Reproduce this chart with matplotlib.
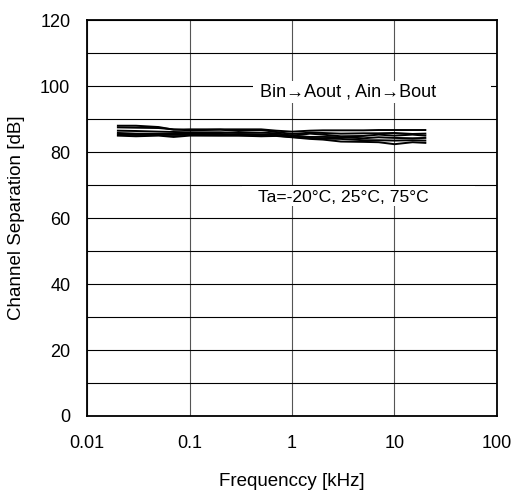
import numpy as np
import matplotlib.pyplot as plt
from matplotlib.patches import Rectangle

# channel separation vs frequency, 2 directions x 3 temperatures
freq = [0.02, 0.03, 0.05, 0.07, 0.1, 0.2, 0.3, 0.5, 0.7, 1, 1.5, 2, 3, 5, 7, 10, 15, 20]

sep1 = [88.0, 88.0, 87.6, 86.8, 86.9, 86.9, 86.9, 86.9, 86.5, 86.2, 86.5, 86.6, 86.6, 86.6, 86.7, 86.7, 86.7, 86.7]
sep2 = [87.5, 87.4, 87.3, 86.9, 86.6, 86.8, 86.4, 86.7, 86.1, 85.5, 85.9, 85.8, 85.6, 85.7, 85.7, 85.8, 85.5, 85.6]
sep3 = [86.5, 86.4, 86.2, 86.1, 86.0, 86.0, 85.8, 85.9, 85.7, 85.0, 85.6, 85.3, 84.8, 84.9, 85.3, 85.0, 85.3, 85.0]
sep4 = [85.8, 85.6, 85.5, 85.5, 85.5, 85.5, 85.4, 85.4, 85.2, 85.0, 84.6, 84.6, 84.5, 84.2, 84.5, 84.3, 84.2, 84.3]
sep5 = [85.3, 85.2, 85.2, 85.2, 85.2, 85.1, 85.1, 85.1, 85.0, 84.6, 84.3, 84.1, 84.0, 83.6, 83.6, 83.5, 83.6, 83.5]
sep6 = [85.0, 84.8, 85.0, 84.6, 85.0, 85.0, 85.0, 84.8, 84.9, 84.5, 84.0, 83.8, 83.2, 83.1, 83.0, 82.4, 83.0, 82.8]

xticks = [0.01, 0.1, 1, 10, 100]
xticklabels = ["0.01", "0.1", "1", "10", "100"]

plt.rcParams['font.family'] = ['Liberation Sans', 'DejaVu Sans']

fig = plt.figure(figsize=(5.15, 4.92), dpi=100)
ax = fig.add_axes([0.169, 0.1545, 0.796, 0.8045])

for s in (sep1, sep2, sep3, sep4, sep5, sep6):
    ax.plot(freq, s, color="black", linewidth=1.4, zorder=3)

ax.set_xscale("log")
ax.set_xlim(0.01, 100)
ax.set_ylim(0, 120)
ax.set_xticks(xticks)
ax.set_xticklabels(xticklabels)
ax.set_yticks(np.arange(0, 121, 20))
ax.set_yticks(np.arange(10, 120, 20), minor=True)
ax.xaxis.set_minor_locator(plt.NullLocator())
ax.tick_params(which="both", length=0, labelsize=13)
ax.tick_params(axis="x", pad=14)
ax.tick_params(axis="y", pad=12)

ax.grid(True, which="major", color="black", linewidth=0.8)
ax.grid(True, which="minor", axis="y", color="black", linewidth=0.8)
ax.xaxis.grid(True, color="#555555", linewidth=0.8)
for sp in ax.spines.values():
    sp.set_linewidth(1.3)

# white patches masking gridlines behind annotations
ax.add_patch(Rectangle((0.405, 0.79), 0.58, 0.056, transform=ax.transAxes,
                       facecolor="white", edgecolor="none", zorder=2.5))
ax.add_patch(Rectangle((0.378, 0.53), 0.568, 0.05, transform=ax.transAxes,
                       facecolor="white", edgecolor="none", zorder=2.5))
ax.text(0.637, 0.818, "Bin\u2192Aout , Ain\u2192Bout", transform=ax.transAxes,
        ha="center", va="center", fontsize=13, zorder=4)
ax.text(0.626, 0.553, "Ta=-20\u00b0C, 25\u00b0C, 75\u00b0C", transform=ax.transAxes,
        ha="center", va="center", fontsize=12.6, zorder=4)

ax.set_xlabel("Frequenccy [kHz]", fontsize=13.5, labelpad=15)
ax.set_ylabel("Channel Separation [dB]", fontsize=13.5, labelpad=11)

fig.savefig("out.png", dpi=100)
